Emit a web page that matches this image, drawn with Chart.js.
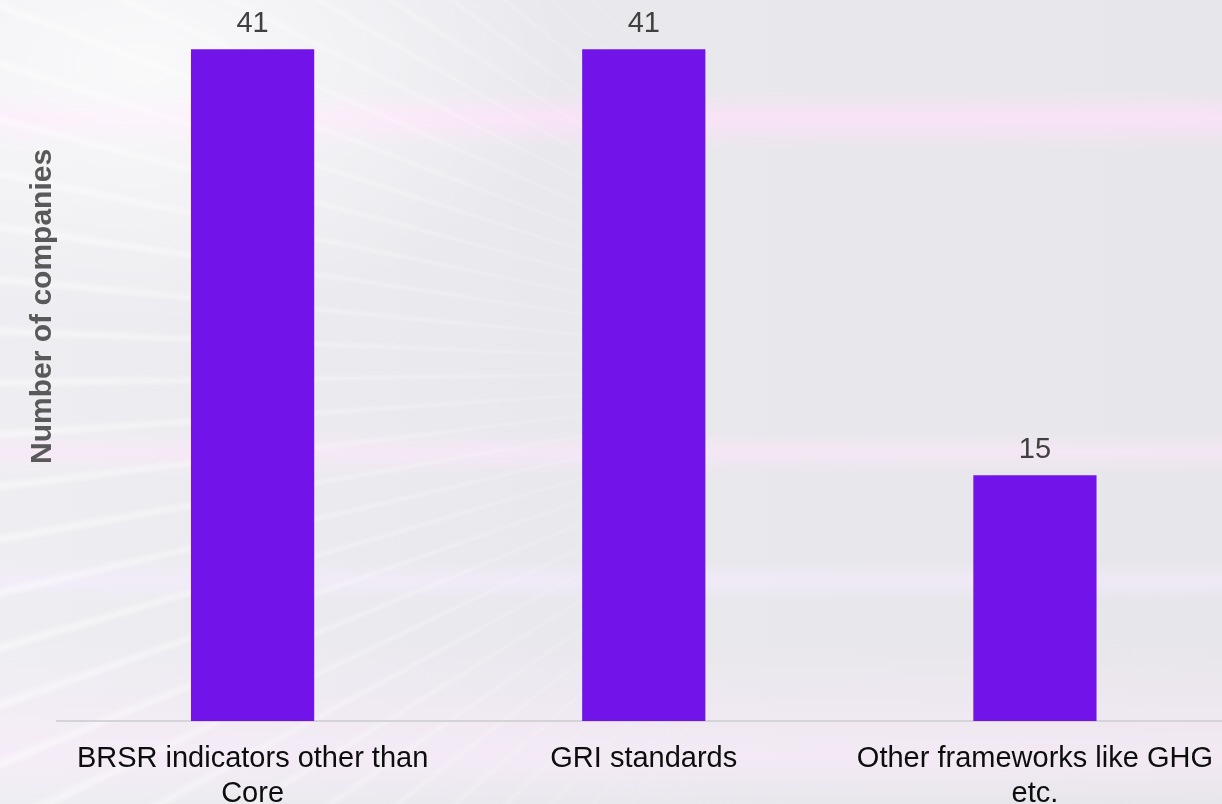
<!DOCTYPE html>
<html>
<head>
<meta charset="utf-8">
<script src="https://cdn.jsdelivr.net/npm/chart.js@4.4.0/dist/chart.umd.min.js"></script>
<style>
  html, body {
    margin: 0;
    padding: 0;
    width: 1222px;
    height: 804px;
    overflow: hidden;
  }
  body {
    position: relative;
    background:
      radial-gradient(ellipse 420px 260px at 12% 8%, rgba(255,255,255,0.7), rgba(255,255,255,0) 100%),
      linear-gradient(to bottom, rgba(255,225,250,0) 90px, rgba(255,225,250,0.75) 118px, rgba(255,225,250,0) 150px),
      linear-gradient(to bottom, rgba(255,230,250,0) 430px, rgba(255,230,252,0.55) 452px, rgba(255,230,250,0) 475px),
      linear-gradient(to bottom, rgba(245,235,255,0) 560px, rgba(245,235,255,0.6) 582px, rgba(245,235,255,0) 600px),
      linear-gradient(to bottom, rgba(250,235,250,0) 640px, rgba(250,235,250,0.6) 760px, rgba(250,235,250,0) 804px),
      linear-gradient(to right, #eeeef2 0%, #e9e8ed 45%, #e7e6ea 100%);
  }
  #rays {
    position: absolute;
    left: 0;
    top: 0;
    width: 1222px;
    height: 804px;
    background: repeating-conic-gradient(from 0deg at 78% 46%,
      rgba(255,255,255,0) 0deg, rgba(255,255,255,0) 2.2deg,
      rgba(255,255,255,0.45) 2.6deg, rgba(255,255,255,0) 3.1deg);
    -webkit-mask-image: linear-gradient(to right, #000 0%, rgba(0,0,0,0.5) 35%, transparent 62%);
    mask-image: linear-gradient(to right, #000 0%, rgba(0,0,0,0.5) 35%, transparent 62%);
  }
  #wrap {
    position: absolute;
    left: 0;
    top: 0;
    width: 1233px;
    height: 804px;
  }
</style>
</head>
<body>
<div id="rays"></div>
<div id="wrap"><canvas id="chart" width="1233" height="804"></canvas></div>
<script>
const categories = [
  ['BRSR indicators other than', 'Core'],
  'GRI standards',
  ['Other frameworks like GHG', 'etc.']
];
const companies = [41, 41, 15];
const yAxisTitle = 'Number of companies';

const FONT = '"Liberation Sans", Arial, sans-serif';

// Value labels above each bar
const barLabels = {
  id: 'barLabels',
  afterDatasetsDraw(chart) {
    const { ctx } = chart;
    const meta = chart.getDatasetMeta(0);
    ctx.save();
    ctx.font = `29px ${FONT}`;
    ctx.fillStyle = '#404040';
    ctx.textAlign = 'center';
    ctx.textBaseline = 'alphabetic';
    meta.data.forEach((bar, i) => {
      ctx.fillText(String(companies[i]), bar.x, bar.y - 17);
    });
    ctx.restore();
  }
};

// Rotated y-axis title
const yTitle = {
  id: 'yTitle',
  afterDraw(chart) {
    const { ctx, chartArea } = chart;
    ctx.save();
    ctx.translate(43, chartArea.top + chartArea.height * 0.425);
    ctx.rotate(-Math.PI / 2);
    ctx.font = `bold 30px ${FONT}`;
    ctx.fillStyle = '#595959';
    ctx.textAlign = 'center';
    ctx.textBaseline = 'middle';
    ctx.fillText(yAxisTitle, 0, 0);
    ctx.restore();
  }
};

new Chart(document.getElementById('chart'), {
  type: 'bar',
  data: {
    labels: categories,
    datasets: [{
      data: companies,
      backgroundColor: '#7213EA',
      borderWidth: 0,
      barPercentage: 0.315,
      categoryPercentage: 1,
    }],
  },
  options: {
    responsive: false,
    animation: false,
    layout: { padding: { left: 57, right: 0, top: 0, bottom: 0 } },
    plugins: {
      legend: { display: false },
      tooltip: { enabled: false },
    },
    scales: {
      x: {
        grid: { display: false, drawTicks: false },
        border: { display: true, color: '#d4d4d8', width: 2 },
        ticks: {
          font: { family: FONT, size: 29, lineHeight: 1.22 },
          color: '#0d0d0d',
          padding: 20,
          maxRotation: 0,
          autoSkip: false,
        },
        afterFit: (scale) => { scale.height = 83; },
      },
      y: {
        display: false,
        min: 0,
        max: 44,
      },
    },
  },
  plugins: [barLabels, yTitle],
});
</script>
</body>
</html>
